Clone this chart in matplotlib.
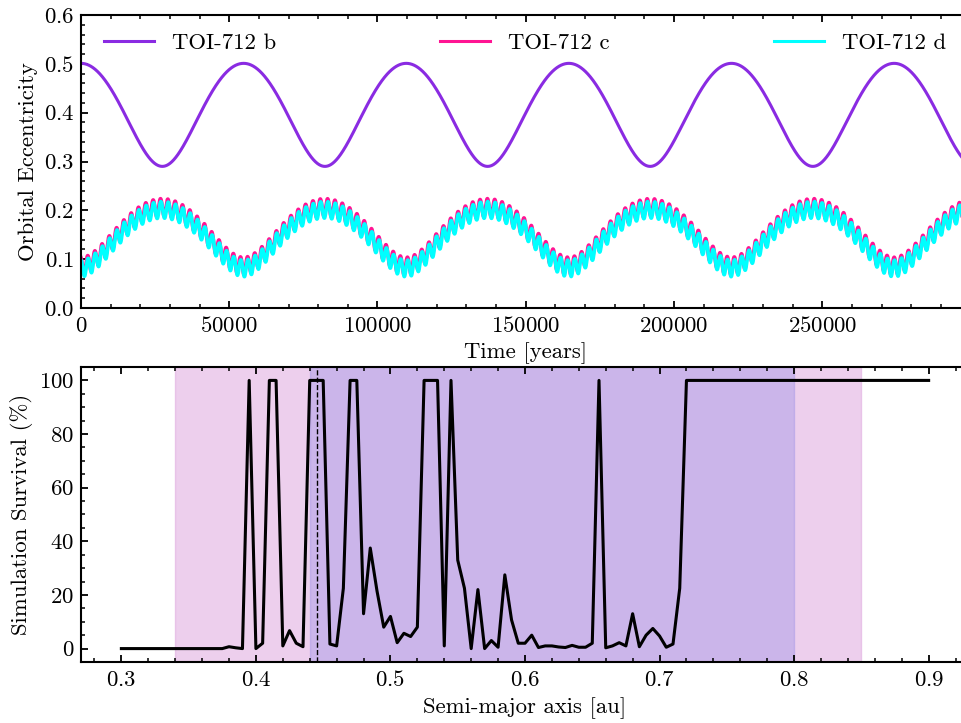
import numpy as np
import matplotlib
matplotlib.use('Agg')
import matplotlib.pyplot as plt
from matplotlib.ticker import AutoMinorLocator, MultipleLocator

plt.rcParams.update({
    'font.family': 'serif',
    'font.serif': ['cmr10'],
    'mathtext.fontset': 'cm',
    'axes.formatter.use_mathtext': True,
    'font.size': 16.4,
    'axes.linewidth': 1.5,
    'xtick.direction': 'in', 'ytick.direction': 'in',
    'xtick.top': True, 'ytick.right': True,
    'xtick.major.size': 5.0, 'ytick.major.size': 5.0,
    'xtick.minor.size': 2.8, 'ytick.minor.size': 2.8,
    'xtick.major.width': 1.3, 'ytick.major.width': 1.3,
    'xtick.minor.width': 1.1, 'ytick.minor.width': 1.1,
    'xtick.major.pad': 6, 'ytick.major.pad': 5,
})

# --- top panel: secular eccentricity evolution (mode amplitudes)
t_max = 300000.0          # years simulated
t_view = 299500.0         # right edge of the visible axis
p_slow = 54850.0          # years, secular period shared by all three planets
p_fast = 2450.0           # years, short period wiggle of c and d
# b: |A1 + A2 e^{i g t}|  -> max 0.50, min 0.29
amp_b = [0.3955, 0.1055]
# c, d: |A1 - A2 e^{i g t} + A3 e^{i (g3 t + phi)}|
amp_c = [0.146, 0.060, 0.018, 0.35]
amp_d = [0.141, 0.060, 0.017, 0.0]
names = ['TOI-712 b', 'TOI-712 c', 'TOI-712 d']
colors = ['#8a2be2', '#ff1493', '#00ffff']

# --- bottom panel: survival vs semi-major axis
a_start, a_stop = 0.30, 0.90
survival = ([0.0] * 15 +
            [0, 0.7, 0.3, 0, 100,
             0, 2, 100, 100, 1,
             6.7, 2, 0.7, 100, 100,
             100, 1.7, 1, 22.5, 100,
             100, 13, 37.5, 21.5, 8,
             12, 2.2, 5.7, 4.5, 8,
             100, 100, 100, 1, 100,
             33, 22.5, 0, 22, 0,
             3, 0.5, 27.5, 10.7, 2,
             2, 5, 0.4, 1, 1,
             0.6, 0.4, 1.2, 0.5, 0.5,
             2, 100, 0.3, 1, 2.2,
             1, 13, 0.7, 5, 7.5,
             4.7, 0.5, 1.7, 22.5, 100] +
            [100.0] * 36)
hz_optimistic = (0.34, 0.85)
hz_conservative = (0.44, 0.80)
a_planet_d = 0.4457

t = np.linspace(0, t_max, 8001)
th = 2 * np.pi * t / p_slow
thf = 2 * np.pi * t / p_fast

e_b = np.abs(amp_b[0] + amp_b[1] * np.exp(1j * th))
e_c = np.abs(amp_c[0] - amp_c[1] * np.exp(1j * th) + amp_c[2] * np.exp(1j * (thf + amp_c[3])))
e_d = np.abs(amp_d[0] - amp_d[1] * np.exp(1j * th) + amp_d[2] * np.exp(1j * (thf + amp_d[3])))

fig = plt.figure(figsize=(9.62, 7.23), dpi=100)
W, H = 962.0, 723.0
ax1 = fig.add_axes([81 / W, 1 - 308 / H, 888 / W, 293 / H])
ax2 = fig.add_axes([81 / W, 1 - 662 / H, 888 / W, 295 / H])

for e, lab, c, lw in zip([e_b, e_c, e_d], names, colors, [2.2, 2.6, 2.6]):
    ax1.plot(t, e, color=c, lw=lw, label=lab)
ax1.set_xlim(0, t_view)
ax1.set_ylim(0, 0.6)
ax1.xaxis.set_major_locator(MultipleLocator(50000))
ax1.xaxis.set_minor_locator(AutoMinorLocator())
ax1.yaxis.set_minor_locator(AutoMinorLocator())
ax1.set_xlabel('Time [years]', labelpad=4)
ax1.set_ylabel('Orbital Eccentricity')
leg = ax1.legend(loc='upper left', bbox_to_anchor=(0.005, 1, 0.99, 0), ncol=3, mode='expand',
                 frameon=False, handlelength=2.2, borderaxespad=0.4)
for h in leg.get_lines():
    h.set_linewidth(2.2)

a = np.linspace(a_start, a_stop, len(survival))
ax2.axvspan(*hz_optimistic, color='#dca0dc', alpha=0.5)
ax2.axvspan(*hz_conservative, color='#9a8ee6', alpha=0.4)
ax2.axvline(a_planet_d, color='k', ls='--', lw=1.0)
ax2.plot(a, survival, color='k', lw=2.2)
ax2.set_xlim(0.27, 0.93)
ax2.set_ylim(-5, 105)
ax2.xaxis.set_major_locator(MultipleLocator(0.1))
ax2.xaxis.set_minor_locator(AutoMinorLocator())
ax2.yaxis.set_minor_locator(AutoMinorLocator())
ax2.set_xlabel('Semi-major axis [au]', labelpad=5)
ax2.set_ylabel('Simulation Survival (%)')

fig.savefig('out.png', dpi=100)
